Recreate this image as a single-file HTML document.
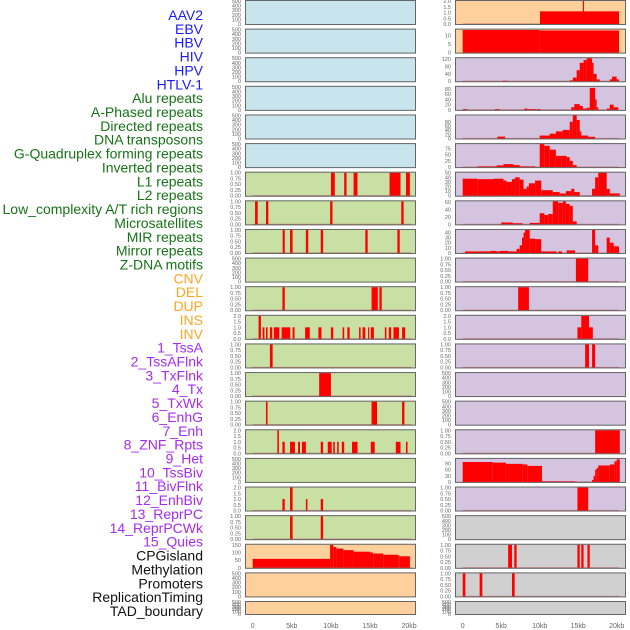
<!DOCTYPE html>
<html><head><meta charset="utf-8">
<style>
html,body{margin:0;padding:0;background:#fff;}
body{width:630px;height:630px;overflow:hidden;font-family:"Liberation Sans",sans-serif;}
svg{display:block;}
.lab{font-size:14px;text-anchor:end;}
.tk{font-size:5.5px;fill:#666;text-anchor:end;}
.xt{font-size:7px;fill:#666;text-anchor:middle;}
</style></head>
<body>
<svg id="chart" width="630" height="630" viewBox="0 0 630 630">
<g id="labels"></g>
<g id="panels"></g>
<g id="xaxes"></g>
</svg>
<script>
const trackLabels = ["AAV2","EBV","HBV","HIV","HPV","HTLV-1","Alu repeats","A-Phased repeats","Directed repeats","DNA transposons","G-Quadruplex forming repeats","Inverted repeats","L1 repeats","L2 repeats","Low_complexity A/T rich regions","Microsatellites","MIR repeats","Mirror repeats","Z-DNA motifs","CNV","DEL","DUP","INS","INV","1_TssA","2_TssAFlnk","3_TxFlnk","4_Tx","5_TxWk","6_EnhG","7_Enh","8_ZNF_Rpts","9_Het","10_TssBiv","11_BivFlnk","12_EnhBiv","13_ReprPC","14_ReprPCWk","15_Quies","CPGisland","Methylation","Promoters","ReplicationTiming","TAD_boundary"];
const labelGroups = [6,13,5,15,5];
const groupColors = ["#1a1aff","#177317","#ffa521","#a52cf0","#111"];
const xTickValues = [0,5,10,15,20];
const xTickLabels = ["0","5kb","10kb","15kb","20kb"];

const T500=["0","100","200","300","400","500"], T1=["0.00","0.25","0.50","0.75","1.00"], T2=["0.0","0.5","1.0","1.5","2.0"];
const leftBg = ["b","b","b","b","b","b","g","g","g","g","g","g","g","g","g","g","g","g","g","p","p","p"];
const rightBg = ["p","p","l","l","l","l","l","l","l","l","l","l","l","l","l","l","l","l","x","x","x","x"];
const leftTicks = [T500,T500,T500,T500,T500,T500,T1,T1,T1,T500,T1,T2,T1,T1,T1,T2,T500,T2,T1,["0","50","100","150"],T500,T500];
const leftTickVals = [null,null,null,null,null,null,null,null,null,null,null,null,null,null,null,null,null,null,null,[0,50,100,150],null,null];
const leftYMax = [500,500,500,500,500,500,1,1,1,500,1,2,1,1,1,2,500,2,1,150,500,500];
const rightTicks = [T2,["0","5","10"],["0","40","80","120"],["0","20","40","60","80"],["0","20","40","60","80"],["0","25","50","75"],["0","10","20","30","40","50"],["0","20","40","60"],["0","10","20","30","40"],T1,T1,T2,T1,T500,T500,T1,["0","30","60","90"],T1,T500,T1,T1,T500];
const rightYMax = [2,13.5,125,88,110,92,50,62,45,1,1,2,1,500,500,1,112,1,500,1,1,500];

const leftSegments = [
 [],[],[],[],[],[],
 [[10.0,10.5,1],[11.7,12.0,1],[12.9,13.4,1],[17.5,18.9,1],[19.6,20.1,1]],
 [[0.3,0.64,1],[1.7,2.0,1],[9.9,10.2,1],[19.0,19.3,1]],
 [[3.83,4.1,1],[4.77,5.1,1],[6.8,7.1,1],[8.7,9.0,1],[14.4,14.7,1],[18.5,18.8,1]],
 [],
 [[3.8,4.1,1],[15.2,16.0,1],[16.2,16.5,1]],
 [[0.75,1.05,2],[1.27,1.5,1],[1.7,1.9,1],[2.2,2.5,1],[2.7,3.4,1],[3.7,4.8,1],[5.1,5.35,1],[6.7,7.3,1],[8.4,8.8,1],[10.0,10.3,1],[11.5,11.7,1],[12.1,12.4,1],[13.6,13.8,1],[14.05,14.4,1],[14.75,14.9,1],[15.1,15.5,1],[16.9,17.1,1],[17.4,17.7,1],[18.0,18.7,1],[19.1,19.5,1]],
 [[2.2,2.55,1]],
 [[8.5,10.0,1]],
 [[1.7,1.9,1],[15.2,15.9,1],[19.1,19.4,1]],
 [[3.15,3.35,2],[3.8,4.1,1],[4.77,5.4,1],[5.8,6.05,1],[6.3,6.8,1],[8.7,9.0,1],[9.6,10.1,1],[10.3,10.5,1],[10.8,11.0,1],[11.4,11.7,1],[12.7,13.4,1],[15.1,15.6,1],[18.3,18.9,1],[19.6,19.8,1]],
 [],
 [[3.8,4.1,1],[4.77,5.1,2],[6.8,7.0,1],[8.7,9.0,1]],
 [[4.77,5.1,1],[8.7,9.0,1]],
 [[0,9.9,58],[9.9,10.3,155],[10.3,10.7,135],[10.7,11.6,125],[11.6,12.9,115],[12.9,15.0,105],[15.0,15.4,100],[15.4,16.7,93],[16.7,18.6,85],[18.6,18.8,80],[18.8,20.1,75]],
 [],[]
];
const rightSegments = [
 [[10.04,20.3,1.1],[15.6,15.75,2]],
 [[0,10.0,13.3],[10.0,20.3,13]],
 [[5.2,5.8,3],[13.9,14.3,5],[14.3,14.8,20],[14.8,15.2,60],[15.2,15.7,100],[15.7,16.1,115],[16.1,16.8,125],[16.8,17.0,100],[17.0,17.4,40],[17.4,17.8,10],[19.1,19.4,10],[19.4,20.0,25],[20.0,20.3,10]],
 [[0,0.6,3],[4.2,4.8,3],[8.0,8.4,5],[8.4,9.5,3],[9.6,10.1,3],[14.1,14.5,10],[14.5,15.2,22],[15.2,15.6,15],[15.6,16.1,5],[16.1,16.5,8],[16.5,17.2,84],[17.2,17.4,40],[17.4,17.6,10],[18.7,19.1,5],[19.1,19.6,20],[19.6,20.2,10]],
 [[4.5,5.5,9],[10.0,11.3,14],[11.3,12.1,23],[12.1,13.0,34],[13.0,13.9,41],[13.9,14.3,80],[14.3,14.8,110],[14.8,15.2,88],[15.2,15.4,34],[15.4,16.3,14],[16.3,17.2,8]],
 [[1.9,4.4,3],[4.4,5.3,7],[5.3,6.6,12],[6.6,7.4,8],[7.4,9.4,3],[10.0,10.6,92],[10.6,11.3,85],[11.3,12.1,70],[12.1,12.8,45],[12.8,13.5,45],[13.5,13.9,40],[13.9,14.3,25],[14.3,14.8,8]],
 [[0,1.9,37],[1.9,4.0,36],[4.0,5.3,37],[5.3,5.7,33],[5.7,6.4,30],[6.4,6.8,36],[6.8,7.4,40],[7.4,7.9,35],[7.9,8.3,15],[8.3,8.6,20],[8.6,9.4,27],[9.4,10.2,33],[10.2,11.7,12],[11.7,12.6,8],[12.6,13.4,5],[13.4,14.1,10],[14.1,14.5,15],[14.5,15.2,8],[16.8,17.2,15],[17.2,17.6,40],[17.6,18.7,50],[18.7,19.1,15],[19.1,20.4,5]],
 [[5.0,6.5,5],[6.5,7.8,3],[8.7,10.0,4],[10.0,10.6,30],[10.6,11.1,25],[11.1,11.7,28],[11.7,12.4,62],[12.4,13.0,58],[13.0,13.4,62],[13.4,13.9,55],[13.9,14.3,50],[14.3,14.8,8]],
 [[0.3,3.6,3],[3.6,4.4,4],[4.4,4.8,3],[4.8,5.9,4],[5.9,6.6,3],[6.6,7.0,3],[7.0,7.4,8],[7.4,7.7,15],[7.7,7.9,30],[7.9,8.1,40],[8.1,8.7,45],[8.7,9.4,28],[9.4,10.2,27],[10.2,12.2,3],[12.4,12.9,3],[13.5,14.6,5],[16.8,17.2,45],[17.2,17.6,15],[18.7,19.1,30],[19.1,19.6,20],[19.6,20.3,13]],
 [[14.7,16.3,1]],
 [[7.2,8.6,1]],
 [[14.9,15.4,1],[15.4,16.4,2],[16.4,16.9,1]],
 [[15.9,16.4,1],[16.8,17.2,1]],
 [],[],
 [[17.2,20.4,1]],
 [[0,3.9,97],[3.9,5.6,94],[5.6,7.8,88],[7.8,8.4,85],[8.4,10.3,78],[10.3,14.6,3],[16.8,17.0,10],[17.0,17.2,30],[17.2,17.4,60],[17.4,17.6,68],[17.6,19.1,80],[19.1,19.7,85],[19.7,20.0,100],[20.0,20.4,110]],
 [[14.9,16.3,1]],
 [],
 [[5.9,6.4,1],[6.7,7.0,1],[14.9,15.2,1],[15.4,15.7,1],[16.2,16.5,1]],
 [[0,0.35,1],[2.2,2.55,1],[6.4,6.75,1]],
 []
];

const NS="http://www.w3.org/2000/svg";
const bgColors={b:"#c8e4ec",g:"#c8e0a4",p:"#ffd09c",l:"#d4c4e0",x:"#d0d0d0"};
function mk(tag,attrs,parent){const e=document.createElementNS(NS,tag);for(const k in attrs)e.setAttribute(k,attrs[k]);parent.appendChild(e);return e;}
function rowTop(r){return r<21?r*28.62:601;}
function rowH(r){return r<21?25:14;}
const cols=[{x0:245,x1:416,zero:252.7,ppk:7.82,bg:leftBg,ticks:leftTicks,ymax:leftYMax,segs:leftSegments,side:"left"},
            {x0:455,x1:626,zero:462.7,ppk:7.7,bg:rightBg,ticks:rightTicks,ymax:rightYMax,segs:rightSegments,side:"right"}];
function xScale(c,kb){return c.zero+kb*c.ppk;}

const lg=document.getElementById('labels');
let idx=0;
labelGroups.forEach((n,gi)=>{for(let i=0;i<n;i++){const t=mk('text',{x:203,y:15+idx*13.86+5,class:'lab',fill:groupColors[gi]},lg);t.textContent=trackLabels[idx];


idx++;}});

const pg=document.getElementById('panels');
cols.forEach((c,ci)=>{
 for(let r=0;r<22;r++){
  const top=rowTop(r),h=rowH(r),bot=top+h;
  const g=mk('g',{},pg);
  
  
  mk('rect',{x:c.x0,y:top,width:c.x1-c.x0,height:h,fill:bgColors[c.bg[r]]},g);
  const ymax=c.ymax[r];
  const yS=v=>(bot-1)-(v/ymax)*(h-2);
  const segs=c.segs[r];
  if(segs.length){
    mk('rect',{x:xScale(c,0),y:bot-1.6,width:xScale(c,20.3)-xScale(c,0),height:1.1,fill:"#c87070",opacity:0.8},g);
  }
  segs.forEach(s=>{
    const y=yS(Math.min(s[2],ymax));
    const b=mk('rect',{x:xScale(c,s[0]),y:y,width:Math.max(1,xScale(c,s[1])-xScale(c,s[0])),height:(bot-1)-y,fill:"#ff0000"},g);
    
    
  });
  mk('rect',{x:c.x0+0.5,y:top+0.5,width:c.x1-c.x0-1,height:h-1,fill:"none",stroke:"#666",'stroke-width':1},g);
  const tl=c.ticks[r];
  const tv=(ci===0&&leftTickVals[r])?leftTickVals[r]:null;
  tl.forEach((lab,i)=>{
    const v=tv?tv[i]:parseFloat(lab);
    const t=mk('text',{x:c.x0-4,y:yS(v)+2,class:'tk'},g);
    t.textContent=lab;
    
    
  });
 }
});
const xg=document.getElementById('xaxes');
cols.forEach(c=>{
 xTickValues.forEach((v,i)=>{
  const t=mk('text',{x:xScale(c,v),y:628,class:'xt'},xg);
  t.textContent=xTickLabels[i];
  
  
 });
});
</script>
</body></html>
